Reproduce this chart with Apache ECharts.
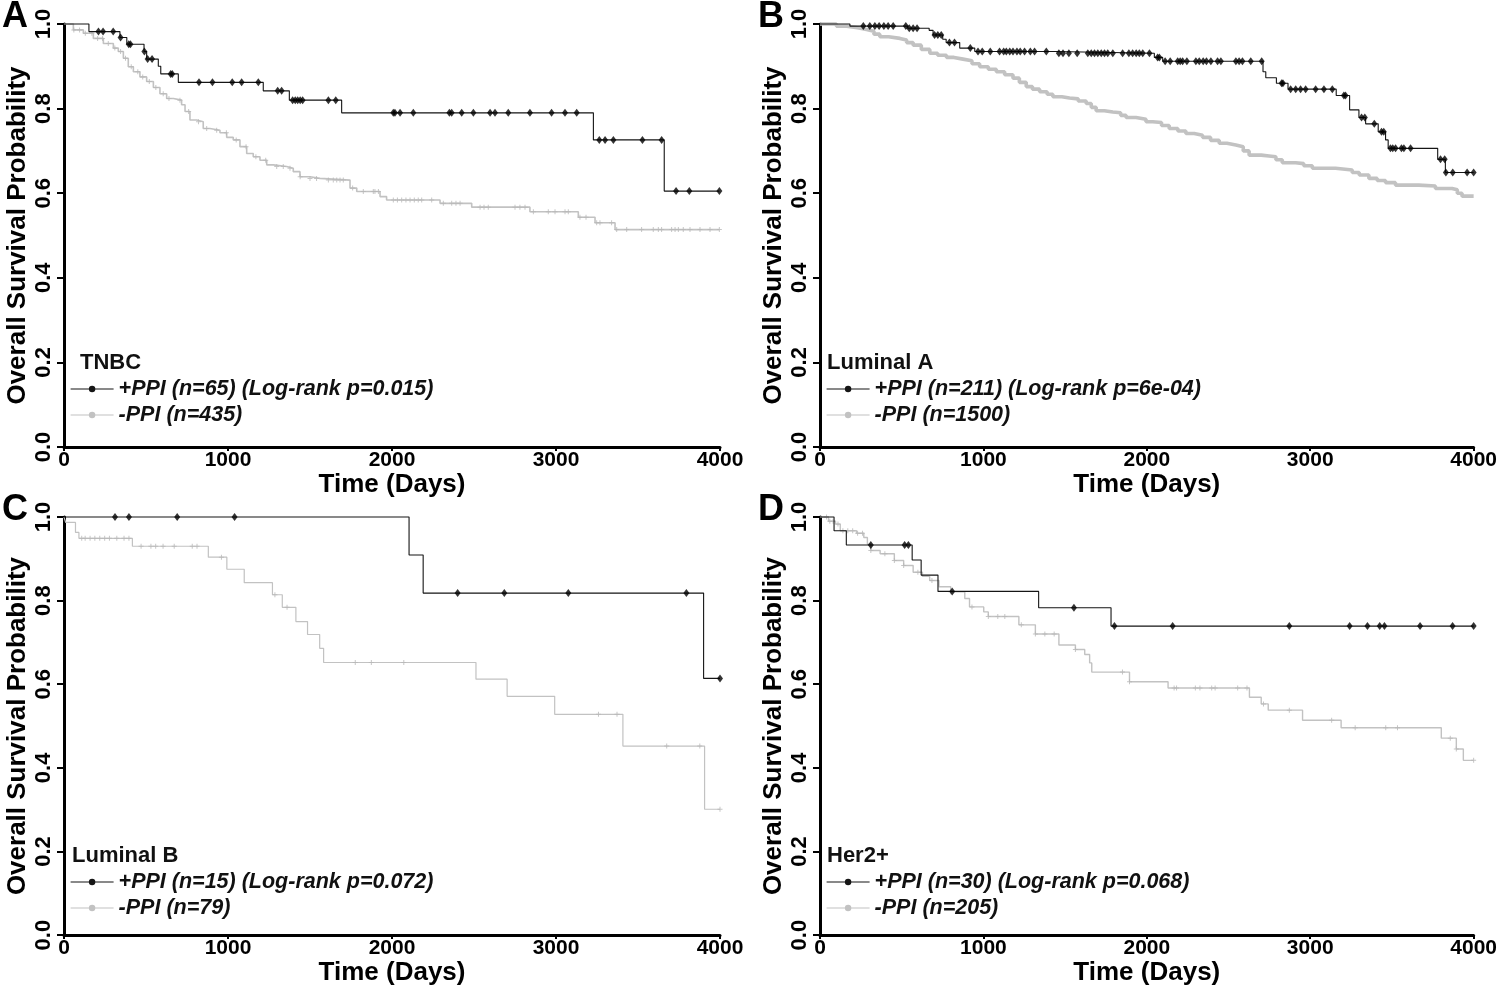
<!DOCTYPE html>
<html><head><meta charset="utf-8">
<script src="https://cdn.jsdelivr.net/npm/echarts@6/dist/echarts.min.js"></script>
<style>html,body{margin:0;padding:0;background:#fff}#c{width:1500px;height:987px}</style>
</head><body><div id="c"></div>
<script>
// ---------- tick labels / categories ----------
const xTicks = [0, 1000, 2000, 3000, 4000];
const yTicks = [0.0, 0.2, 0.4, 0.6, 0.8, 1.0];
const panelLetters = ['A', 'B', 'C', 'D'];
const subtypes = ['TNBC', 'Luminal A', 'Luminal B', 'Her2+'];
const plusNames = ['+PPI (n=65) (Log-rank p=0.015)', '+PPI (n=211) (Log-rank p=6e-04)', '+PPI (n=15) (Log-rank p=0.072)', '+PPI (n=30) (Log-rank p=0.068)'];
const minusNames = ['-PPI (n=435)', '-PPI (n=1500)', '-PPI (n=79)', '-PPI (n=205)'];

// ---------- Panel A : TNBC ----------
const aPlusCurve = [[0,1],[152,0.982],[341,0.968],[383,0.952],[488,0.935],[504,0.917],[575,0.900],[590,0.882],[697,0.862],[1215,0.842],[1374,0.820],[1693,0.790],[3228,0.726],[3660,0.605],[3996,0.605]];
const aPlusCensor = [210,238,300,345,395,405,490,510,537,650,660,823,905,1026,1083,1185,1303,1327,1394,1410,1425,1440,1455,1612,1657,2008,2018,2049,2130,2350,2364,2425,2496,2598,2628,2709,2841,2973,3055,3126,3264,3299,3350,3527,3644,3732,3813,3996];
const aMinusCurve = [[0,1],[57,0.986],[118,0.978],[179,0.966],[240,0.954],[301,0.943],[331,0.935],[362,0.919],[392,0.899],[423,0.887],[463,0.875],[504,0.864],[545,0.850],[585,0.835],[626,0.824],[667,0.820],[717,0.809],[738,0.793],[768,0.773],[809,0.769],[849,0.753],[890,0.749],[951,0.743],[992,0.732],[1032,0.726],[1073,0.710],[1114,0.694],[1154,0.686],[1195,0.678],[1236,0.667],[1276,0.663],[1358,0.659],[1398,0.651],[1439,0.639],[1500,0.635],[1561,0.631],[1744,0.612],[1785,0.604],[1927,0.592],[1967,0.584],[2293,0.576],[2486,0.567],[2841,0.556],[3136,0.543],[3238,0.530],[3360,0.514],[3996,0.514]];
const aMinusCensor = [60,95,130,170,205,235,270,310,345,375,410,450,480,520,560,605,640,707,760,820,870,931,990,1050,1110,1170,1230,1297,1337,1378,1440,1500,1540,1612,1642,1663,1683,1703,1760,1825,1886,1896,1917,2008,2033,2059,2085,2110,2136,2160,2181,2242,2313,2364,2390,2415,2537,2561,2587,2750,2780,2811,2862,2953,2994,3055,3075,3146,3183,3248,3268,3339,3370,3431,3522,3593,3624,3644,3705,3726,3746,3776,3817,3878,3939,3996];

// ---------- Panel B : Luminal A ----------
const bPlusCurve = [[0,1],[183,0.995],[537,0.990],[668,0.985],[692,0.974],[751,0.964],[772,0.956],[855,0.943],[947,0.935],[1435,0.931],[2046,0.921],[2097,0.912],[2711,0.887],[2728,0.873],[2793,0.860],[2864,0.846],[3159,0.831],[3241,0.797],[3298,0.779],[3339,0.764],[3416,0.745],[3461,0.726],[3477,0.706],[3780,0.680],[3827,0.649],[4000,0.649]];
const bPlusCensor = [265,305,336,362,391,417,448,525,546,570,594,701,721,742,792,823,920,967,993,1042,1099,1124,1140,1161,1181,1205,1225,1252,1287,1313,1385,1462,1487,1523,1574,1639,1660,1680,1700,1721,1741,1761,1792,1852,1890,1913,1935,1954,1975,2016,2066,2077,2112,2143,2189,2204,2219,2245,2300,2321,2345,2365,2392,2433,2453,2545,2565,2585,2636,2703,2825,2833,2880,2911,2941,2972,3033,3084,3135,3206,3216,3314,3334,3392,3436,3450,3491,3505,3522,3558,3573,3614,3797,3823,3830,3872,3960,4000];
const bMinusCurve = [[0,1],[100,0.995],[163,0.991],[230,0.987],[285,0.983],[330,0.976],[366,0.970],[420,0.966],[489,0.962],[530,0.956],[570,0.950],[620,0.940],[672,0.931],[720,0.926],[774,0.921],[820,0.917],[875,0.913],[930,0.906],[977,0.899],[1030,0.893],[1079,0.887],[1130,0.880],[1181,0.872],[1220,0.862],[1262,0.852],[1300,0.846],[1344,0.840],[1390,0.834],[1425,0.828],[1480,0.825],[1527,0.823],[1580,0.818],[1629,0.812],[1660,0.803],[1690,0.795],[1740,0.792],[1792,0.790],[1840,0.784],[1873,0.779],[1934,0.775],[1995,0.769],[2036,0.767],[2090,0.760],[2137,0.753],[2190,0.747],[2239,0.741],[2290,0.737],[2341,0.732],[2390,0.725],[2443,0.718],[2490,0.714],[2545,0.710],[2590,0.700],[2626,0.690],[2700,0.688],[2748,0.686],[2790,0.679],[2829,0.672],[2911,0.670],[2960,0.665],[3013,0.659],[3155,0.655],[3257,0.649],[3300,0.643],[3359,0.635],[3410,0.630],[3461,0.625],[3522,0.619],[3664,0.617],[3766,0.611],[3868,0.608],[3900,0.600],[3929,0.593],[4000,0.592]];
const bMinusCensor = [];

// ---------- Panel C : Luminal B ----------
const cPlusCurve = [[0,1],[2104,0.909],[2190,0.818],[3900,0.614],[4000,0.614]];
const cPlusCensor = [311,396,690,1040,2400,2685,3075,3795,4000];
const cMinusCurve = [[0,1],[10,0.987],[70,0.963],[91,0.949],[417,0.930],[880,0.904],[993,0.875],[1099,0.843],[1271,0.814],[1331,0.784],[1414,0.750],[1485,0.719],[1559,0.686],[1583,0.652],[2512,0.612],[2702,0.571],[2992,0.528],[3408,0.452],[3906,0.301],[4000,0.301]];
const cMinusCensor = [108,129,159,188,218,248,277,322,366,396,470,530,559,604,672,782,811,960,1286,1360,1776,1874,2072,3259,3372,3675,3877,4000];

// ---------- Panel D : Her2+ ----------
const dPlusCurve = [[0,1],[86,0.967],[161,0.933],[564,0.897],[619,0.861],[722,0.822],[1338,0.783],[1781,0.739],[4000,0.739]];
const dPlusCensor = [311,518,541,809,1554,1802,2158,2872,3241,3350,3425,3454,3672,3871,4000];
const dMinusCurve = [[0,1],[52,0.990],[95,0.983],[124,0.967],[224,0.961],[268,0.951],[290,0.935],[311,0.920],[368,0.912],[455,0.896],[512,0.884],[570,0.868],[627,0.858],[671,0.848],[728,0.833],[800,0.821],[886,0.805],[915,0.785],[1002,0.773],[1030,0.762],[1217,0.742],[1318,0.720],[1462,0.694],[1563,0.683],[1620,0.671],[1650,0.651],[1663,0.629],[1894,0.606],[2130,0.591],[2628,0.569],[2700,0.553],[2743,0.538],[2953,0.514],[3189,0.496],[3802,0.471],[3894,0.445],[3937,0.418],[4000,0.418]];
const dMinusCensor = [40,60,80,110,140,170,200,230,260,311,397,455,512,599,685,800,930,1030,1088,1131,1232,1318,1376,1433,1563,1851,1894,2167,2182,2297,2325,2397,2418,2556,2613,2714,2872,3131,3275,3462,3534,3857,3894,4000];

// ---------- assemble ----------
const panels = [
  {plus: aPlusCurve, plusC: aPlusCensor, minus: aMinusCurve, minusC: aMinusCensor},
  {plus: bPlusCurve, plusC: bPlusCensor, minus: bMinusCurve, minusC: bMinusCensor},
  {plus: cPlusCurve, plusC: cPlusCensor, minus: cMinusCurve, minusC: cMinusCensor},
  {plus: dPlusCurve, plusC: dPlusCensor, minus: dMinusCurve, minusC: dMinusCensor}
];
const layout = [
  {left: 64, top: 24, width: 656, height: 423},
  {left: 820, top: 24, width: 655, height: 423},
  {left: 64, top: 517, width: 656, height: 423},
  {left: 820, top: 517, width: 655, height: 423}
];
const subtitleOffset = [16, 7, 8, 7];
const greyWidth = [1.6, 3.6, 1.2, 1.4];
const FONT = '"Liberation Sans", Arial, Helvetica, sans-serif';
const BLACK = '#151515';
const GREY = '#c2c2c2';
const PLUS = 'path://M2,0h1v2h2v1h-2v2h-1v-2h-2v-1h2z';

function valueAt(curve, t) {
  let v = curve[0][1];
  for (const p of curve) { if (p[0] <= t) v = p[1]; else break; }
  return v;
}

const grid = [], xAxis = [], yAxis = [], series = [], legend = [], title = [];
panels.forEach((p, i) => {
  const L = layout[i];
  grid.push({left: L.left, top: L.top, width: L.width, height: L.height, containLabel: false});
  xAxis.push({
    gridIndex: i, type: 'value', min: xTicks[0], max: xTicks[xTicks.length - 1], interval: xTicks[1] - xTicks[0],
    axisLine: {show: true, lineStyle: {color: '#000', width: 3}},
    axisTick: {show: true, length: 4, lineStyle: {color: '#000', width: 2}},
    axisLabel: {color: '#000', fontSize: 21, fontWeight: 'bold', fontFamily: FONT, margin: 3,
      formatter: v => String(v)},
    splitLine: {show: false},
    name: 'Time (Days)', nameLocation: 'middle', nameGap: 15,
    nameTextStyle: {color: '#000', fontSize: 26, fontWeight: 'bold', fontFamily: FONT}
  });
  yAxis.push({
    gridIndex: i, type: 'value', min: yTicks[0], max: yTicks[yTicks.length - 1], interval: yTicks[1] - yTicks[0],
    axisLine: {show: true, lineStyle: {color: '#000', width: 3}},
    axisTick: {show: true, length: 7, lineStyle: {color: '#000', width: 2}},
    axisLabel: {color: '#000', fontSize: 22, fontWeight: 'bold', fontFamily: FONT, rotate: 90, margin: 9,
      formatter: v => v.toFixed(1)},
    splitLine: {show: false},
    name: 'Overall Survival Probability', nameLocation: 'middle', nameRotate: 90, nameGap: 33,
    nameTextStyle: {color: '#000', fontSize: 26, fontWeight: 'bold', fontFamily: FONT}
  });
  series.push({
    type: 'line', name: minusNames[i], xAxisIndex: i, yAxisIndex: i, data: p.minus, step: 'end',
    showSymbol: false, symbol: 'circle', symbolSize: 6, clip: false, silent: true, animation: false,
    lineStyle: {color: GREY, width: greyWidth[i]}, itemStyle: {color: GREY}, z: 2
  });
  series.push({
    type: 'scatter', xAxisIndex: i, yAxisIndex: i, data: p.minusC.map(t => [t, valueAt(p.minus, t)]),
    symbol: PLUS, symbolSize: 5, clip: false, silent: true, animation: false,
    itemStyle: {color: '#b8b8b8'}, z: 2
  });
  series.push({
    type: 'line', name: plusNames[i], xAxisIndex: i, yAxisIndex: i, data: p.plus, step: 'end',
    showSymbol: false, symbol: 'circle', symbolSize: 6, clip: false, silent: true, animation: false,
    lineStyle: {color: BLACK, width: 1.1}, itemStyle: {color: BLACK}, z: 3
  });
  series.push({
    type: 'scatter', xAxisIndex: i, yAxisIndex: i, data: p.plusC.map(t => [t, valueAt(p.plus, t)]),
    symbol: 'diamond', symbolSize: [6, 8], clip: false, silent: true, animation: false,
    itemStyle: {color: '#000'}, z: 4
  });
  legend.push({
    left: L.left + 6, top: L.top + L.height - 71, orient: 'vertical', padding: 0, itemGap: 0,
    itemWidth: 43, itemHeight: 8, selectedMode: false,
    data: [plusNames[i], minusNames[i]],
    lineStyle: {width: 1.2},
    textStyle: {color: '#111', fontSize: 21.5, fontWeight: 'bold', fontStyle: 'italic', fontFamily: FONT, lineHeight: 26}
  });
  title.push({
    text: panelLetters[i], left: L.left - 62, top: L.top - 24, padding: 0,
    textStyle: {color: '#000', fontSize: 36, fontWeight: 'bold', fontFamily: FONT, lineHeight: 34}
  });
  title.push({
    text: subtypes[i], left: L.left + subtitleOffset[i], top: L.top + L.height - 96, padding: 0,
    textStyle: {color: '#111', fontSize: 22, fontWeight: 'bold', fontFamily: FONT, lineHeight: 24}
  });
});

const chart = echarts.init(document.getElementById('c'), null, {renderer: 'canvas'});
chart.setOption({
  backgroundColor: '#fff', animation: false,
  grid, xAxis, yAxis, series, legend, title
});
</script></body></html>
